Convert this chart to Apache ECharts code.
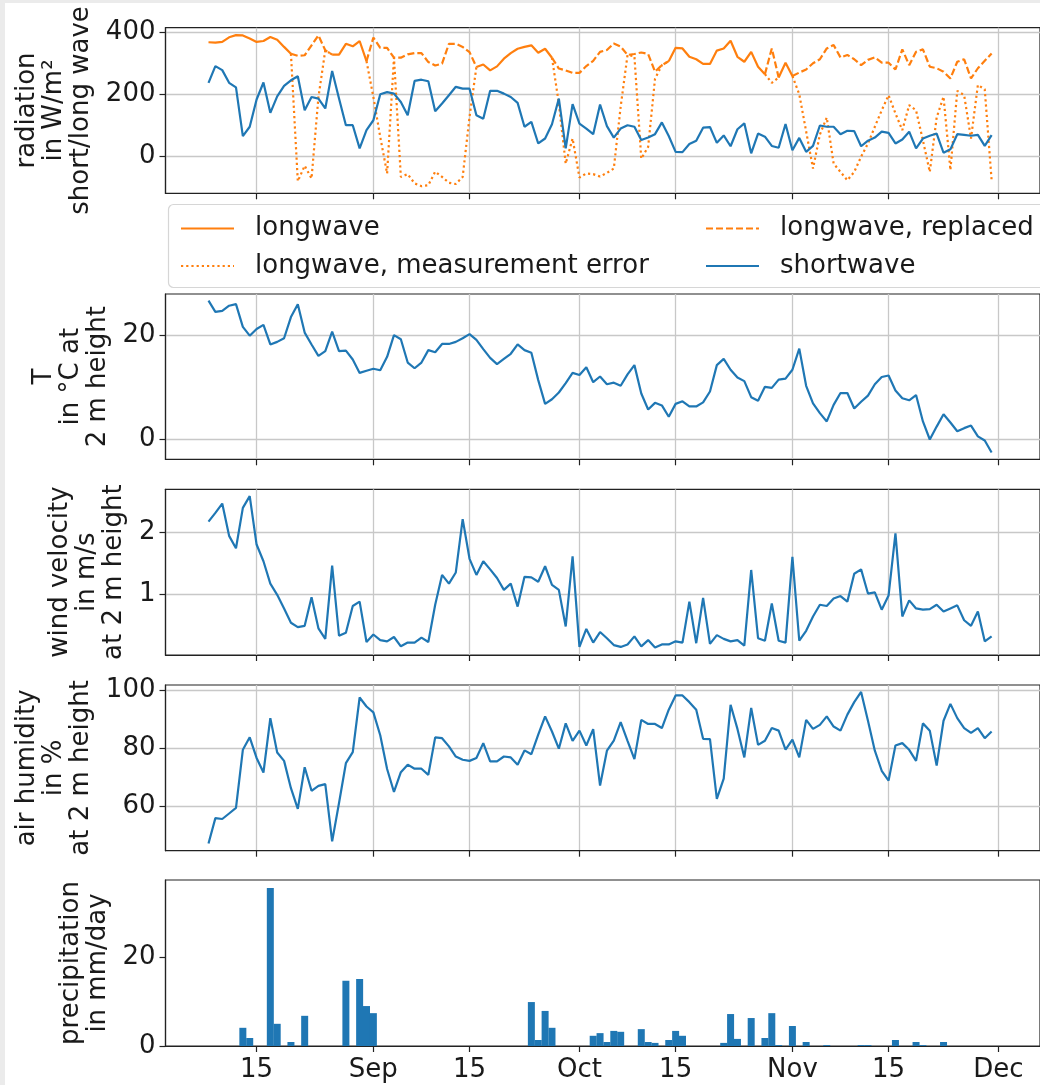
<!DOCTYPE html>
<html>
<head>
<meta charset="utf-8">
<script src="https://cdn.jsdelivr.net/npm/echarts@6/dist/echarts.min.js"></script>
<style>
  html, body { margin: 0; padding: 0; background: #fff; }
  #main { width: 1040px; height: 1085px; }
</style>
</head>
<body>
<div id="main"></div>
<script>
// daily values, 8 Aug .. 30 Nov
const firstDay = '2021-08-08';

const shortwave = [237, 291, 278, 237, 222, 65, 95,
  183, 238, 140, 193, 227, 245, 258, 148, 191, 186, 154, 275, 186, 100, 100, 25, 84,
  116, 200, 207, 202, 175, 132, 243, 247, 242, 145, 170, 197, 224, 218,
  218, 132, 121, 211, 211, 202, 191, 172, 95, 111,
  41, 57, 103, 186, 25, 168,
  105, 89, 71, 167,
  97, 60, 89, 100, 95, 52, 60, 71, 109, 65,
  14, 13, 39, 50, 92, 94, 43, 67, 32, 87,
  106, 9, 73, 63, 33, 27, 104, 19, 59, 14,
  33, 99, 95, 95, 71, 82, 81, 32, 50, 60,
  79, 75, 41, 54, 79, 25, 57, 66, 73, 11,
  22, 71, 69, 66, 69, 33, 68];

// longwave as measured (including the faulty days)
const longwaveMeasured = [368, 367, 369, 384, 391, 390, 380,
  369, 372, 385, 376, 353, 331, -81, -31, -72, 190, 342, 328, 328, 363, 355, 372, 307,
  191, 62, -56, 318, -67, -58, -88, -97, -94, -50, -67, -86, -90, -67,
  127, 288, 296, 277, 290, 315, 333, 347, 353, 358,
  334, 347, 318, 170, -24, 57,
  -69, -56, -58, -66,
  -54, -40, 160, 327, 323, -8, 30, 250, 294, 307,
  350, 348, 321, 313, 298, 298, 341, 348, 373, 321,
  305, 337, 289, 265, 237, 254, 302, 259, 200, 80,
  -40, 70, 125, -24, -51, -78, -51, -2, 41, 95,
  148, 197, 138, 84, 165, 148, 51, -51, 125, 192,
  -45, 211, 197, 57, 230, 216, -78];

// replacement values on the faulty days, null elsewhere
const longwaveReplaced = [null, null, null, null, null, null, null,
  null, null, null, null, null, null, 324, 326, 358, 390, 342, null, null, null, null, null, null,
  383, 350, 350, 318, 318, 329, 333, 333, 304, 293, 299, 363, 363, 353,
  336, null, null, null, null, null, null, null, null, null,
  null, null, null, 283, 277, 269,
  269, 291, 308, 337,
  343, 364, 354, 327, 330, 335, 330, 273, 294, null,
  null, null, null, null, null, null, null, null, null, null,
  null, null, null, null, 348, null, null, null, 270, 280,
  300, 313, 348, 359, 319, 327, 313, 294, 311, 319,
  302, 302, 280, 345, 294, 337, 345, 289, 284, 273,
  251, 305, 313, 251, 284, 308, 332];

const temperature = [26.8, 24.6, 24.8, 25.8, 26.1, 21.7, 20.0,
  21.3, 22.1, 18.3, 18.8, 19.5, 23.6, 26.1, 20.6, 18.3, 16.1, 17.0, 20.8, 17.0, 17.1, 15.4, 12.8, 13.2,
  13.6, 13.3, 15.9, 20.1, 19.3, 14.8, 13.7, 14.8, 17.2, 16.8, 18.4, 18.4, 18.8, 19.5,
  20.3, 19.2, 17.4, 15.7, 14.5, 15.5, 16.5, 18.3, 17.2, 16.7,
  11.4, 6.8, 7.7, 9.0, 10.8, 12.8,
  12.4, 13.9, 11.0, 12.1,
  10.6, 10.9, 10.3, 12.5, 14.3, 8.8, 5.7, 7.0, 6.5, 4.3,
  6.8, 7.3, 6.3, 6.3, 7.1, 9.2, 14.3, 15.5, 13.4, 11.9,
  11.2, 8.1, 7.4, 10.1, 9.9, 11.5, 11.7, 13.4, 17.5, 10.3,
  6.9, 5.0, 3.4, 6.6, 8.9, 8.9, 5.9, 7.2, 8.4, 10.6,
  12.0, 12.3, 9.4, 7.9, 7.5, 8.5, 3.4, -0.1, 2.4, 4.8,
  3.2, 1.5, 2.1, 2.6, 0.5, -0.3, -2.6];

const windSpeed = [2.17, 2.31, 2.46, 1.94, 1.74, 2.39, 2.58,
  1.80, 1.53, 1.17, 0.99, 0.77, 0.54, 0.47, 0.49, 0.95, 0.45, 0.28, 1.46, 0.33, 0.38, 0.81, 0.88, 0.23,
  0.35, 0.26, 0.24, 0.31, 0.16, 0.22, 0.22, 0.30, 0.23, 0.83, 1.31, 1.17, 1.35, 2.21,
  1.57, 1.31, 1.53, 1.40, 1.26, 1.07, 1.17, 0.80, 1.28, 1.27,
  1.20, 1.45, 1.15, 1.07, 0.48, 1.61,
  0.15, 0.44, 0.22, 0.39,
  0.29, 0.18, 0.15, 0.19, 0.32, 0.16, 0.26, 0.14, 0.19, 0.19,
  0.24, 0.22, 0.88, 0.21, 0.94, 0.20, 0.34, 0.28, 0.24, 0.26,
  0.17, 1.39, 0.29, 0.25, 0.85, 0.25, 0.22, 1.60, 0.25, 0.41,
  0.64, 0.83, 0.81, 0.93, 0.97, 0.88, 1.33, 1.40, 1.01, 1.03,
  0.75, 0.98, 1.98, 0.64, 0.90, 0.77, 0.75, 0.76, 0.83, 0.72,
  0.77, 0.82, 0.58, 0.49, 0.72, 0.24, 0.32];

const humidity = [47.2, 55.9, 55.6, 57.5, 59.4, 79.4, 83.7,
  76.6, 71.6, 90.3, 78.5, 75.6, 66.2, 59.1, 73.4, 65.3, 67.0, 67.6, 47.9, 61.1, 74.8, 78.6, 97.4, 94.3,
  92.3, 84.4, 72.8, 64.9, 71.7, 74.3, 72.9, 72.9, 70.8, 83.7, 83.4, 80.6, 77.1, 76.0,
  75.6, 76.6, 81.7, 75.4, 75.4, 77.1, 76.8, 74.3, 79.2, 77.9,
  84.6, 90.9, 85.7, 79.8, 88.5, 82.5,
  86.0, 80.9, 86.5, 67.1,
  79.1, 82.6, 88.9, 82.5, 76.2, 89.7, 88.3, 88.3, 86.9, 93.2,
  98.1, 98.1, 95.8, 93.2, 83.2, 83.1, 62.5, 69.5, 94.9, 86.6,
  76.8, 93.8, 81.1, 82.5, 86.9, 86.0, 79.5, 82.9, 76.8, 89.7,
  86.6, 88.0, 90.9, 87.4, 86.0, 91.5, 95.8, 99.3, 89.4, 79.1,
  72.2, 68.8, 80.9, 81.7, 79.4, 75.6, 88.5, 86.0, 74.0, 89.4,
  95.2, 90.3, 86.9, 85.2, 86.9, 83.4, 85.7];

// days with precipitation (all other days 0)
const precipDates = ['2021-08-13', '2021-08-14', '2021-08-17', '2021-08-18', '2021-08-20', '2021-08-22',
  '2021-08-28', '2021-08-30', '2021-08-31', '2021-09-01', '2021-09-24', '2021-09-25', '2021-09-26',
  '2021-09-27', '2021-10-03', '2021-10-04', '2021-10-05', '2021-10-06', '2021-10-07', '2021-10-10',
  '2021-10-11', '2021-10-12', '2021-10-14', '2021-10-15', '2021-10-16', '2021-10-22', '2021-10-23',
  '2021-10-24', '2021-10-26', '2021-10-28', '2021-10-29', '2021-10-30', '2021-11-01', '2021-11-03',
  '2021-11-06', '2021-11-11', '2021-11-12', '2021-11-16', '2021-11-19', '2021-11-20', '2021-11-23'];
const precipValues = [4.1, 1.8, 35.6, 5.0, 0.9, 6.8,
  14.7, 15.1, 9.0, 7.4, 9.9, 1.35, 7.9,
  4.1, 2.3, 2.9, 0.9, 3.4, 3.2, 3.8,
  0.9, 0.7, 1.35, 3.4, 2.3, 0.7, 7.2,
  1.6, 6.3, 1.8, 7.4, 0.2, 4.5, 0.9,
  0.2, 0.2, 0.2, 1.35, 0.9, 0.2, 0.9];

const tickDates = ['2021-08-15', '2021-09-01', '2021-09-15', '2021-10-01',
  '2021-10-15', '2021-11-01', '2021-11-15', '2021-12-01'];
const tickLabels = ['15', 'Sep', '15', 'Oct', '15', 'Nov', '15', 'Dec'];

// x axis runs in days since the first day
const DAY = 86400000;
const utc = s => { const p = s.split('-'); return Date.UTC(+p[0], p[1] - 1, +p[2]); };
const dayOf = s => Math.round((utc(s) - utc(firstDay)) / DAY);
const days = shortwave.map((_, i) => i);
const tickDays = tickDates.map(dayOf);

// split longwave into measured / faulty / replaced pieces, each joined to its neighbours
const isBad = i => i >= 0 && i < longwaveReplaced.length && longwaveReplaced[i] != null;
const nearBad = i => isBad(i - 1) || isBad(i + 1);
const lwGood = days.map(i => [i, isBad(i) ? null : longwaveMeasured[i]]);
const lwError = days.map(i => [i, (isBad(i) || nearBad(i)) ? longwaveMeasured[i] : null]);
const lwRepl = days.map(i => [i, isBad(i) ? longwaveReplaced[i] : (nearBad(i) ? longwaveMeasured[i] : null)]);
const pairs = arr => days.map(i => [i, arr[i]]);

const FONT = 'DejaVu Sans';
const TXT = '#1a1a1a';
const BLUE = '#1f77b4';
const ORANGE = '#ff7f0e';
const pxPerDay = 6.948;
const gridLeft = 165.5;
const gridWidth = 884.5;
const xMin = tickDays[0] - 13.26;
const xMax = xMin + gridWidth / pxPerDay;

const panels = [
  {top: 27.7, height: 165.6, min: -120, max: 415, ticks: [0, 200, 400], gap: 59,
    name: 'radiation\nin W/m²\nshort/long wave', grid: true},
  {top: 294, height: 165.3, min: -3.93, max: 28.07, ticks: [0, 20], gap: 49,
    name: 'T\nin °C at\n2 m height', grid: true},
  {top: 489.3, height: 165.7, min: 0.02, max: 2.69, ticks: [1, 2], gap: 33,
    name: 'wind velocity\nin m/s\nat 2 m height', grid: true},
  {top: 685, height: 165.7, min: 44.7, max: 101.7, ticks: [60, 80, 100], gap: 63,
    name: 'air humidity\nin %\nat 2 m height', grid: true},
  {top: 880, height: 166, min: 0, max: 37.4, ticks: [0, 20], gap: 49,
    name: 'precipitation\nin mm/day', grid: false}
];

const lineColor = '#222';
const gridColor = '#c8c8c8';

const option = {
  animation: false,
  backgroundColor: '#fff',
  grid: panels.map(p => ({
    left: gridLeft, top: p.top, width: gridWidth, height: p.height,
    show: true, borderColor: lineColor, borderWidth: 1.2, containLabel: false
  })),
  xAxis: panels.map((p, i) => ({
    type: 'value', gridIndex: i, min: xMin, max: xMax,
    axisLine: {show: true, onZero: false, lineStyle: {color: lineColor, width: 1.2}},
    axisTick: {show: true, length: 6, customValues: tickDays, lineStyle: {color: lineColor, width: 1.2}},
    axisLabel: {
      show: i === panels.length - 1, customValues: tickDays, margin: 11,
      fontFamily: FONT, fontSize: 26, color: TXT,
      formatter: v => tickLabels[tickDays.indexOf(Math.round(v))] || ''
    },
    splitLine: {show: p.grid, lineStyle: {color: gridColor, width: 1.3}}
  })),
  yAxis: panels.map((p, i) => ({
    type: 'value', gridIndex: i, min: p.min, max: p.max,
    name: p.name, nameLocation: 'middle', nameRotate: 90, nameGap: p.gap,
    nameTextStyle: {fontFamily: FONT, fontSize: 26, lineHeight: 27, color: TXT},
    axisLine: {show: true, onZero: false, lineStyle: {color: lineColor, width: 1.2}},
    axisTick: {show: true, length: 6, customValues: p.ticks, lineStyle: {color: lineColor, width: 1.2}},
    axisLabel: {customValues: p.ticks, margin: 10, fontFamily: FONT, fontSize: 26, color: TXT},
    splitLine: {show: p.grid, lineStyle: {color: gridColor, width: 1.3}}
  })),
  legend: [
    {data: ['longwave'], left: 180, top: 215.5},
    {data: ['longwave, measurement error'], left: 180, top: 253},
    {data: ['longwave, replaced'], left: 705, top: 215.5},
    {data: ['shortwave'], left: 705, top: 253}
  ].map(l => Object.assign({
    padding: 0, itemWidth: 53, itemHeight: 14, selectedMode: false,
    itemStyle: {opacity: 0},
    textStyle: {fontFamily: FONT, fontSize: 26, color: TXT, padding: [0, 0, 0, 16]}
  }, l)),
  graphic: [
    {type: 'rect', z: -1, shape: {x: 168.5, y: 204.5, width: 900, height: 83, r: 5},
      style: {fill: '#fff', stroke: '#d6d6d6', lineWidth: 1.2}},
    {type: 'rect', z: 100, shape: {x: 0, y: 0, width: 1040, height: 3}, style: {fill: '#ebebeb'}},
    {type: 'rect', z: 100, shape: {x: 0, y: 0, width: 5, height: 1085}, style: {fill: '#ebebeb'}}
  ],
  series: [
    {name: 'longwave', type: 'line', xAxisIndex: 0, yAxisIndex: 0, data: lwGood,
      showSymbol: false, symbol: 'none', color: ORANGE, lineStyle: {color: ORANGE, width: 2.2}},
    {name: 'longwave, measurement error', type: 'line', xAxisIndex: 0, yAxisIndex: 0, data: lwError,
      showSymbol: false, symbol: 'none', color: ORANGE, lineStyle: {color: ORANGE, width: 2.2, type: [2.2, 3]}},
    {name: 'longwave, replaced', type: 'line', xAxisIndex: 0, yAxisIndex: 0, data: lwRepl,
      showSymbol: false, symbol: 'none', color: ORANGE, lineStyle: {color: ORANGE, width: 2.2, type: [7, 3]}},
    {name: 'shortwave', type: 'line', xAxisIndex: 0, yAxisIndex: 0, data: pairs(shortwave),
      showSymbol: false, symbol: 'none', color: BLUE, lineStyle: {color: BLUE, width: 2.2}},
    {name: 'T', type: 'line', xAxisIndex: 1, yAxisIndex: 1, data: pairs(temperature),
      showSymbol: false, symbol: 'none', color: BLUE, lineStyle: {color: BLUE, width: 2.2}},
    {name: 'wind', type: 'line', xAxisIndex: 2, yAxisIndex: 2, data: pairs(windSpeed),
      showSymbol: false, symbol: 'none', color: BLUE, lineStyle: {color: BLUE, width: 2.2}},
    {name: 'humidity', type: 'line', xAxisIndex: 3, yAxisIndex: 3, data: pairs(humidity),
      showSymbol: false, symbol: 'none', color: BLUE, lineStyle: {color: BLUE, width: 2.2}},
    {name: 'precipitation', type: 'bar', xAxisIndex: 4, yAxisIndex: 4,
      data: precipDates.map((d, i) => [dayOf(d), precipValues[i]]),
      barWidth: 7, itemStyle: {color: BLUE}}
  ]
};

const chart = echarts.init(document.getElementById('main'), null, {renderer: 'canvas'});
chart.setOption(option);
</script>
</body>
</html>
